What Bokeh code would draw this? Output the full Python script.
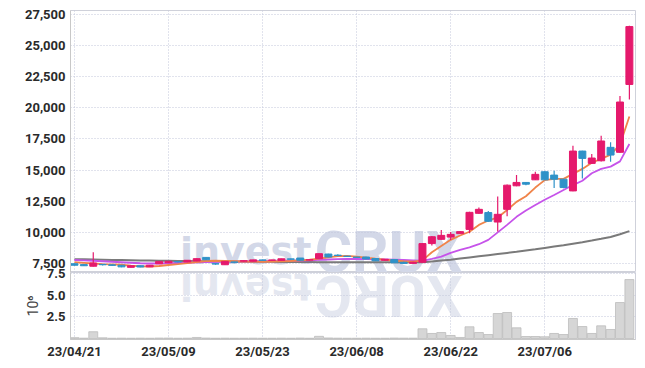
from bokeh.plotting import figure
from bokeh.layouts import column
from bokeh.models import ColumnDataSource, Range1d, FixedTicker, NumeralTickFormatter, Label
from bokeh.embed import file_html
from bokeh.resources import INLINE

# ---------------- data ----------------
dates = ["23/04/21", "23/04/24", "23/04/25", "23/04/26", "23/04/27", "23/04/28",
         "23/05/02", "23/05/03", "23/05/04", "23/05/08", "23/05/09", "23/05/10",
         "23/05/11", "23/05/12", "23/05/15", "23/05/16", "23/05/17", "23/05/18",
         "23/05/19", "23/05/22", "23/05/23", "23/05/24", "23/05/25", "23/05/26",
         "23/05/30", "23/05/31", "23/06/01", "23/06/02", "23/06/05", "23/06/07",
         "23/06/08", "23/06/09", "23/06/12", "23/06/13", "23/06/14", "23/06/15",
         "23/06/16", "23/06/19", "23/06/20", "23/06/21", "23/06/22", "23/06/23",
         "23/06/26", "23/06/27", "23/06/28", "23/06/29", "23/06/30", "23/07/03",
         "23/07/04", "23/07/05", "23/07/06", "23/07/07", "23/07/10", "23/07/11",
         "23/07/12", "23/07/13", "23/07/14", "23/07/17", "23/07/18", "23/07/19"]

open_ = [7480, 7410, 7280, 7430, 7390, 7360, 7190, 7320, 7230, 7480,
         7560, 7650, 7630, 7700, 7990, 7480, 7400, 7620, 7690, 7680,
         7780, 7760, 7750, 7870, 7940, 7780, 7890, 8260, 8170, 8090,
         8010, 8020, 7900, 7760, 7820, 7600, 7510, 7600, 9100, 9440,
         9620, 9900, 10240, 11530, 11590, 10830, 11850, 13740, 14010, 14220,
         14870, 14600, 14270, 13330, 16530, 15540, 15750, 16830, 16430, 21880]
high = [7500, 7430, 8400, 7460, 7410, 7380, 7360, 7340, 7380, 7690,
        7690, 7700, 7780, 7900, 8010, 7520, 7690, 7650, 7740, 7800,
        7800, 7800, 7890, 7880, 7950, 7820, 8300, 8280, 8240, 8110,
        8040, 8040, 7940, 7870, 7830, 7640, 7640, 9120, 9700, 10190,
        10020, 10100, 11650, 11990, 11720, 12880, 13850, 14600, 14050, 14870,
        14900, 14950, 14300, 16960, 16550, 16290, 17770, 17240, 20950, 26600]
low = [7340, 7300, 7250, 7340, 7290, 7200, 7180, 7200, 7220, 7460,
       7540, 7600, 7600, 7690, 7780, 7400, 7380, 7520, 7650, 7670,
       7720, 7740, 7740, 7820, 7750, 7760, 7880, 8000, 8080, 8040,
       7960, 7850, 7700, 7740, 7540, 7450, 7480, 7560, 8950, 9400,
       9380, 9880, 9920, 11500, 10850, 10080, 11300, 13700, 13790, 14200,
       14200, 13570, 13550, 13300, 14330, 15500, 15700, 15670, 16400, 20670]
close = [7360, 7320, 7540, 7400, 7350, 7230, 7320, 7220, 7360, 7670,
         7680, 7630, 7760, 7890, 7800, 7460, 7670, 7600, 7720, 7790,
         7760, 7780, 7880, 7840, 7760, 7800, 8290, 8020, 8140, 8060,
         7990, 7860, 7720, 7840, 7560, 7510, 7600, 9100, 9650, 9760,
         9840, 10060, 11610, 11850, 10890, 11450, 13790, 14010, 13870, 14660,
         14220, 14270, 13600, 16530, 15940, 15970, 17340, 16210, 20470, 26530]

# volume in millions of shares (axis unit 10^6)
volume_m = [0.10, 0.04, 0.78, 0.08, 0.03, 0.04, 0.03, 0.04, 0.03, 0.05,
            0.05, 0.03, 0.04, 0.12, 0.05, 0.03, 0.04, 0.03, 0.03, 0.04,
            0.03, 0.03, 0.04, 0.03, 0.05, 0.03, 0.25, 0.06, 0.04, 0.03,
            0.03, 0.04, 0.03, 0.03, 0.05, 0.04, 0.04, 1.12, 0.58, 0.69,
            0.35, 0.12, 1.35, 0.69, 0.46, 2.88, 3.00, 1.23, 0.23, 0.23,
            0.20, 0.58, 0.46, 2.31, 1.38, 0.58, 1.46, 1.04, 4.15, 6.80]

ma_short = [7600, 7550, 7500, 7450, 7430, 7400, 7330, 7280, 7260, 7300,
            7380, 7450, 7530, 7620, 7700, 7720, 7700, 7680, 7660, 7650,
            7640, 7660, 7680, 7700, 7750, 7800, 7900, 8000, 8100, 8120,
            8060, 7970, 7880, 7800, 7740, 7680, 7640, 7750, 8400, 8900,
            9400, 9750, 10050, 10600, 10950, 11200, 11800, 12450, 12900, 13600,
            14200, 14300, 14300, 14700, 15100, 15600, 15900, 16250, 17050, 19300]
ma_mid = [7780, 7750, 7720, 7680, 7640, 7600, 7560, 7520, 7500, 7500,
          7520, 7540, 7560, 7590, 7610, 7630, 7640, 7650, 7660, 7670,
          7680, 7690, 7700, 7720, 7740, 7760, 7790, 7820, 7850, 7860,
          7860, 7850, 7840, 7820, 7800, 7780, 7750, 7720, 7880, 8050,
          8350, 8600, 8800, 9050, 9400, 10000, 10600, 11250, 11750, 12200,
          12620, 13000, 13400, 13800, 14150, 14750, 15100, 15280, 15700, 17100]
ma_long = [7850, 7835, 7820, 7805, 7790, 7775, 7760, 7745, 7735, 7725,
           7715, 7705, 7700, 7690, 7680, 7670, 7665, 7660, 7650, 7645,
           7640, 7635, 7630, 7625, 7620, 7615, 7610, 7608, 7605, 7602,
           7600, 7598, 7596, 7594, 7592, 7590, 7592, 7600, 7670, 7740,
           7810, 7900, 7990, 8080, 8170, 8260, 8350, 8440, 8540, 8640,
           8750, 8860, 8970, 9090, 9210, 9340, 9480, 9630, 9850, 10100]

price_ticks = [7500, 10000, 12500, 15000, 17500, 20000, 22500, 25000, 27500]
volume_ticks = [2.5, 5.0, 7.5]
date_tick_step = 10

# ---------------- styling ----------------
FONT = "Roboto"
UP, DOWN = "#e5196c", "#2f92c8"
GRID = "#c3c7da"
FRAME = "#cfd1da"
W = 630

idx = list(range(len(dates)))
src = ColumnDataSource(dict(
    x=idx, o=open_, h=high, l=low, c=close, v=volume_m,
    top=[max(a, b) for a, b in zip(open_, close)],
    bot=[min(a, b) for a, b in zip(open_, close)],
    col=[UP if c >= o else DOWN for o, c in zip(open_, close)],
))
date_ticks = idx[::date_tick_step]

x_rng = Range1d(-0.42, 59.65)

def style_common(p):
    p.background_fill_color = "white"
    p.outline_line_color = FRAME
    for g in (p.xgrid, p.ygrid):
        g.grid_line_color = GRID
        g.grid_line_dash = "1 2"
        g.grid_line_width = 1
    p.xgrid.ticker = FixedTicker(ticks=date_ticks)
    for ax in p.axis:
        ax.axis_line_color = "#c8c8c8"
        ax.major_tick_line_color = None
        ax.minor_tick_line_color = None
        ax.major_tick_out = 0
        ax.major_tick_in = 0
        ax.major_label_text_font = FONT
        ax.major_label_text_font_size = "13px"
        ax.major_label_text_font_style = "bold"
        ax.major_label_text_color = "#2a2a2a"

# watermark (decoration only): centre positions in each panel's data space
WM_TOP, WM_REF = "#d3d8e8", "#e4e7f0"

def watermark(p, x, y, text, font, size, color, flipped):
    p.add_layout(Label(x=x, y=y, text=text[::-1] if flipped else text,
                       angle=3.14159265 if flipped else 0,
                       text_font=font, text_font_style="bold", text_font_size=size,
                       text_color=color, text_align="center", text_baseline="middle",
                       level="image"))

# price panel
p1 = figure(width=W, height=265, x_range=x_rng, y_range=Range1d(6777, 27821),
            output_backend="svg", toolbar_location=None,
            min_border_left=63, min_border_right=2, min_border_top=3, min_border_bottom=0,
            margin=(7, 0, 0, 7))
style_common(p1)
p1.xaxis.visible = False
p1.yaxis.ticker = FixedTicker(ticks=price_ticks)
p1.yaxis.formatter = NumeralTickFormatter(format="0,0")
p1.yaxis.major_label_standoff = 5

watermark(p1, 18.2, 8490, "invest", "DejaVu Sans", "38px", WM_TOP, False)
watermark(p1, 33.4, 8410, "CRUX", "Roboto", "57px", WM_TOP, False)

p1.line(idx, ma_long, line_color="#7a7a7a", line_width=2)
p1.line(idx, ma_mid, line_color="#c653ea", line_width=1.8)
p1.line(idx, ma_short, line_color="#f0844a", line_width=1.8)
p1.segment("x", "h", "x", "l", source=src, line_color="col", line_width=1.2)
p1.vbar("x", 0.74, "top", "bot", source=src, fill_color="col", line_color="col")

# volume panel
p2 = figure(width=W, height=98, x_range=x_rng, y_range=Range1d(-0.115, 7.615),
            output_backend="svg", toolbar_location=None,
            min_border_left=63, min_border_right=2, min_border_top=7, min_border_bottom=24,
            margin=(-7, 0, 0, 7))
style_common(p2)
p2.border_fill_alpha = 0
p2.yaxis.ticker = FixedTicker(ticks=volume_ticks)
p2.yaxis.formatter = NumeralTickFormatter(format="0.0")
p2.yaxis.major_label_standoff = 5
p2.yaxis.axis_label = "10\u2076"
p2.yaxis.axis_label_text_font = FONT
p2.yaxis.axis_label_text_font_size = "14px"
p2.yaxis.axis_label_text_font_style = "normal"
p2.yaxis.axis_label_text_color = "#444444"
p2.yaxis.axis_label_standoff = 3
p2.xaxis.ticker = FixedTicker(ticks=date_ticks)
p2.xaxis.major_label_overrides = {i: dates[i] for i in date_ticks}
p2.xaxis.major_label_standoff = 4

watermark(p2, 18.2, 5.94, "invest", "DejaVu Sans", "38px", WM_REF, True)
watermark(p2, 33.4, 4.96, "CRUX", "Roboto", "57px", WM_REF, True)

p2.vbar("x", 0.95, "v", 0, source=src, fill_color="#d6d6d6", line_color="#bdbdbd", line_width=0.8)

layout = column(p1, p2, spacing=0)
open("out.html", "w").write(file_html(layout, INLINE))
